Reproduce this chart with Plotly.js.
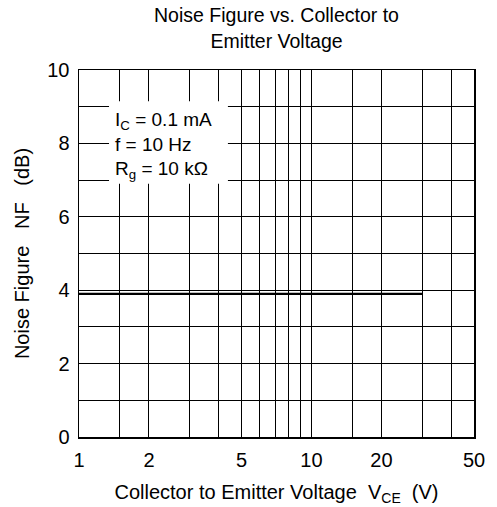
<!DOCTYPE html>
<html>
<head>
<meta charset="utf-8">
<script src="https://cdn.plot.ly/plotly-3.0.1.min.js"></script>
<style>html,body{margin:0;padding:0;background:#fff;}</style>
</head>
<body>
<div id="chart" style="width:497px;height:507px;"></div>
<script>
// Data
const vce = [1, 30];
const nf = [3.9, 3.9];

// Axis ticks / grid
const xGridVals = [1, 1.5, 2, 3, 4, 5, 6, 7, 8, 9, 10, 15, 20, 30, 40, 50];
const xGridText = ['1', '', '2', '', '', '5', '', '', '', '', '10', '', '20', '', '', '50'];
const yGridVals = [0, 1, 2, 3, 4, 5, 6, 7, 8, 9, 10];
const yGridText = ['0', '', '2', '', '4', '', '6', '', '8', '', '10'];

const conditions = ['I<sub>C</sub> = 0.1 mA', 'f = 10 Hz', 'R<sub>g</sub> = 10 k\u03A9'];

const FONT = 'Liberation Sans, Arial, sans-serif';
const FS = 20;

const trace = {
  x: vce, y: nf, type: 'scatter', mode: 'lines',
  line: {color: '#000', width: 2.2},
  hoverinfo: 'skip', showlegend: false
};

const annotations = [{
  text: conditions.join('<br>'), xref: 'paper', yref: 'paper', x: 0.086, y: 0.794,
  xanchor: 'left', yanchor: 'middle', align: 'left', showarrow: false,
  font: {family: FONT, size: 19, color: '#000'}
}];

const layout = {
  width: 497, height: 507,
  margin: {l: 79, r: 23, t: 70, b: 70},
  paper_bgcolor: '#fff', plot_bgcolor: '#fff',
  font: {family: FONT, size: FS, color: '#000'},
  title: {
    text: 'Noise Figure vs. Collector to<br>Emitter Voltage',
    xref: 'paper', x: 0.5, xanchor: 'center',
    yref: 'container', y: 0.956, yanchor: 'top',
    font: {family: FONT, size: 19.5, color: '#000'}
  },
  xaxis: {
    type: 'log', range: [0, Math.log10(50)],
    tickmode: 'array', tickvals: xGridVals, ticktext: xGridText,
    showgrid: true, gridcolor: '#000', gridwidth: 1,
    showline: true, mirror: true, linecolor: '#000', linewidth: 1.5,
    ticks: '', zeroline: false, ticklabelstandoff: 4,
    tickfont: {family: FONT, size: FS, color: '#000'},
    title: {text: 'Collector to Emitter Voltage\u00a0\u00a0V<sub>CE</sub>\u00a0\u00a0(V)', standoff: 15,
            font: {family: FONT, size: FS, color: '#000'}}
  },
  yaxis: {
    range: [0, 10],
    tickmode: 'array', tickvals: yGridVals, ticktext: yGridText,
    showgrid: true, gridcolor: '#000', gridwidth: 1,
    showline: true, mirror: true, linecolor: '#000', linewidth: 1.5,
    ticks: '', zeroline: false, ticklabelstandoff: 4,
    tickfont: {family: FONT, size: FS, color: '#000'},
    title: {text: 'Noise Figure\u00a0\u00a0\u00a0NF\u00a0\u00a0\u00a0(dB)', standoff: 12,
            font: {family: FONT, size: FS, color: '#000'}}
  },
  shapes: [{
    type: 'rect', xref: 'paper', yref: 'paper',
    x0: 0.076, x1: 0.377, y0: 0.690, y1: 0.915,
    fillcolor: '#fff', line: {width: 0}, layer: 'above'
  }],
  annotations: annotations
};

Plotly.newPlot('chart', [trace], layout, {displayModeBar: false, staticPlot: true});
</script>
</body>
</html>
